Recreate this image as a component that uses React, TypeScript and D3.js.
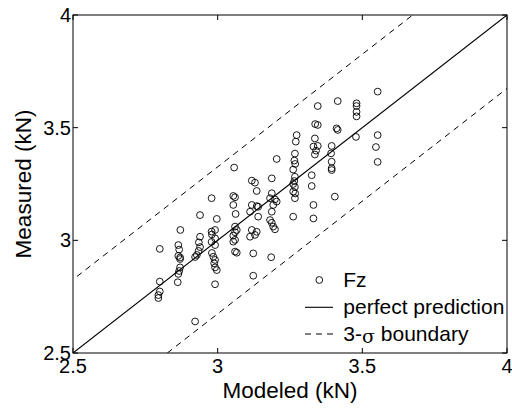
import React from "react";
import * as d3 from "d3";

// Modeled (x) values of the Fz points
const modeled: number[] = [
  2.8, 2.8, 2.8, 2.795, 2.795,
  2.871, 2.864, 2.867, 2.864, 2.87, 2.87, 2.87, 2.867, 2.864, 2.862,
  2.939, 2.939, 2.935, 2.939, 2.934, 2.928, 2.922, 2.922,
  2.979, 2.997, 2.991, 2.979, 2.98, 2.991, 2.979, 2.991, 2.98, 2.985, 2.991, 2.988, 2.991, 2.997, 2.991,
  3.057, 3.054, 3.06, 3.054, 3.062, 3.06, 3.066, 3.06, 3.054, 3.06, 3.054, 3.06, 3.066,
  3.118, 3.129, 3.135, 3.118, 3.135, 3.14, 3.112, 3.14, 3.118, 3.135, 3.129, 3.112, 3.123, 3.123,
  3.204, 3.187, 3.187, 3.198, 3.181, 3.204, 3.192, 3.187, 3.181, 3.187, 3.192, 3.198, 3.185,
  3.273, 3.27, 3.267, 3.265, 3.268, 3.261, 3.267, 3.265, 3.261, 3.267, 3.261, 3.268, 3.267, 3.261,
  3.346, 3.337, 3.346, 3.336, 3.331, 3.346, 3.34, 3.336, 3.325, 3.325, 3.331, 3.331,
  3.415, 3.411, 3.415, 3.394, 3.392, 3.394, 3.394, 3.394, 3.405,
  3.48, 3.48, 3.48, 3.48, 3.478,
  3.553, 3.553, 3.547, 3.553,
];

// Measured (y) values of the Fz points
const measured: number[] = [
  2.962, 2.817, 2.773, 2.757, 2.744,
  3.046, 2.979, 2.959, 2.931, 2.924, 2.917, 2.88, 2.864, 2.851, 2.814,
  3.112, 3.016, 2.991, 2.97, 2.953, 2.935, 2.926, 2.64,
  3.187, 3.095, 3.046, 3.039, 3.026, 3.009, 2.993, 2.979, 2.944, 2.927, 2.913, 2.898, 2.88, 2.868, 2.805,
  3.323, 3.197, 3.191, 3.157, 3.117, 3.061, 3.046, 3.036, 3.021, 3.002, 2.994, 2.95, 2.945,
  3.265, 3.256, 3.219, 3.157, 3.152, 3.149, 3.127, 3.105, 3.046, 3.038, 3.024, 3.016, 2.942, 2.843,
  3.361, 3.275, 3.209, 3.182, 3.187, 3.172, 3.157, 3.127, 3.09, 3.078, 3.061, 3.049, 2.925,
  3.467, 3.438, 3.385, 3.354, 3.339, 3.314, 3.282, 3.263, 3.25, 3.237, 3.216, 3.208, 3.187, 3.105,
  3.596, 3.516, 3.512, 3.452, 3.416, 3.419, 3.398, 3.381, 3.289, 3.241, 3.157, 3.097,
  3.618, 3.497, 3.49, 3.419, 3.386, 3.349, 3.32, 3.312, 3.194,
  3.608, 3.596, 3.57, 3.55, 3.459,
  3.66, 3.467, 3.414, 3.348,
];

const xTicks: number[] = [2.5, 3, 3.5, 4];
const yTicks: number[] = [2.5, 3, 3.5, 4];
const xTickLabels: string[] = ["2.5", "3", "3.5", "4"];
const yTickLabels: string[] = ["2.5", "3", "3.5", "4"];
const sigmaBound = 0.326;
const xLabel = "Modeled (kN)";
const yLabel = "Measured (kN)";
const legendLabels: string[] = ["Fz", "perfect prediction", "boundary"];

const W = 512;
const H = 408;
const L = 73;
const R = 507;
const T = 15;
const B = 353;
const FONT = "'Liberation Sans', Arial, sans-serif";

export default function App() {
  const x = d3.scaleLinear().domain([2.5, 4]).range([L, R]);
  const y = d3.scaleLinear().domain([2.5, 4]).range([B, T]);
  const line = d3
    .line<[number, number]>()
    .x((d) => x(d[0]))
    .y((d) => y(d[1]));
  const perfect: [number, number][] = [
    [2.5, 2.5],
    [4, 4],
  ];
  const upper: [number, number][] = [
    [2.5, 2.5 + sigmaBound],
    [4 - sigmaBound, 4],
  ];
  const lower: [number, number][] = [
    [2.5 + sigmaBound, 2.5],
    [4, 4 - sigmaBound],
  ];
  const tickLen = 5;
  const dash = "6,5";

  return (
    <svg
      width={W}
      height={H}
      style={{ position: "absolute", left: 0, top: 0, background: "#fff" }}
      fontFamily={FONT}
    >
      <rect x={0} y={0} width={W} height={H} fill="#fff" />
      <defs>
        <clipPath id="plotClip">
          <rect x={L} y={T} width={R - L} height={B - T} />
        </clipPath>
      </defs>
      <g clipPath="url(#plotClip)">
        <path d={line(perfect) || ""} stroke="#000" strokeWidth={1.1} fill="none" />
        <path d={line(upper) || ""} stroke="#000" strokeWidth={1} fill="none" strokeDasharray={dash} strokeDashoffset={6} />
        <path d={line(lower) || ""} stroke="#000" strokeWidth={1} fill="none" strokeDasharray={dash} />
        {modeled.map((mx, i) => (
          <circle
            key={i}
            cx={x(mx)}
            cy={y(measured[i])}
            r={3.4}
            fill="none"
            stroke="#000"
            strokeWidth={0.9}
          />
        ))}
      </g>
      {/* box */}
      <rect x={L} y={T} width={R - L} height={B - T} fill="none" stroke="#000" strokeWidth={1} />
      {/* ticks */}
      {xTicks.map((t, i) => (
        <g key={"xt" + i}>
          <line x1={x(t)} x2={x(t)} y1={B} y2={B - tickLen} stroke="#000" />
          <line x1={x(t)} x2={x(t)} y1={T} y2={T + tickLen} stroke="#000" />
          <text x={x(t)} y={373} fontSize={20} textAnchor="middle" fill="#000">
            {xTickLabels[i]}
          </text>
        </g>
      ))}
      {yTicks.map((t, i) => (
        <g key={"yt" + i}>
          <line x1={L} x2={L + tickLen} y1={y(t)} y2={y(t)} stroke="#000" />
          <line x1={R} x2={R - tickLen} y1={y(t)} y2={y(t)} stroke="#000" />
          <text x={71} y={y(t) + 7} fontSize={20} textAnchor="end" fill="#000">
            {yTickLabels[i]}
          </text>
        </g>
      ))}
      <text x={(L + R) / 2} y={398} fontSize={22.5} textAnchor="middle" fill="#000">
        {xLabel}
      </text>
      <text
        transform={`translate(31,${(T + B) / 2}) rotate(-90)`}
        fontSize={22.5}
        textAnchor="middle"
        fill="#000"
      >
        {yLabel}
      </text>
      {/* legend */}
      <g>
        <circle cx={319.3} cy={280} r={3.4} fill="none" stroke="#000" strokeWidth={0.9} />
        <text x={343.3} y={287.3} fontSize={21} fill="#000">
          {legendLabels[0]}
        </text>
        <line x1={305} x2={333} y1={307.3} y2={307.3} stroke="#000" strokeWidth={1.1} />
        <text x={343.3} y={314} fontSize={21} fill="#000">
          {legendLabels[1]}
        </text>
        <line x1={305} x2={333} y1={334} y2={334} stroke="#000" strokeWidth={1} strokeDasharray={dash} />
        <text x={343.3} y={340.7} fontSize={21} fill="#000">
          3-
          <tspan fontFamily="'DejaVu Serif', 'Liberation Serif', serif" fontSize={19} dy={2}>
            σ
          </tspan>
          <tspan dy={-2}> {legendLabels[2]}</tspan>
        </text>
      </g>
    </svg>
  );
}
